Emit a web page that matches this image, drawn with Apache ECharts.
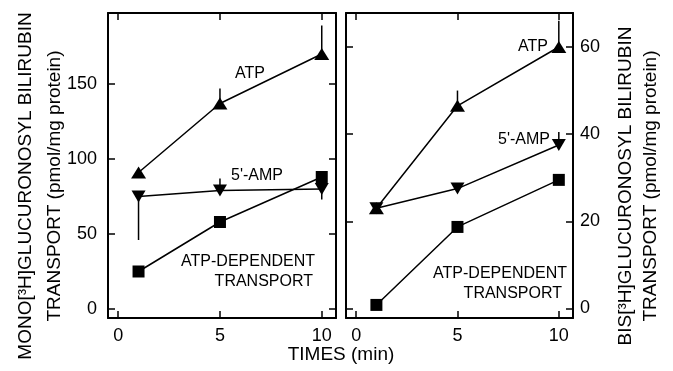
<!DOCTYPE html>
<html>
<head>
<meta charset="utf-8">
<script src="https://cdn.jsdelivr.net/npm/echarts@6/dist/echarts.min.js"></script>
<style>
html,body{margin:0;padding:0;background:#fff;}
#c{width:673px;height:371px;}
</style>
</head>
<body>
<div id="c"></div>
<script>
// ---- data ----
const times = [1, 5, 10];
const xTicks = [0, 5, 10];
const monoTicks = [0, 50, 100, 150];
const bisTicks = [0, 20, 40, 60];

const monoATP = [91, 137, 170];
const monoAMP = [75, 79, 80];
const monoDep = [25, 58, 88];
const monoATPErr = [null, 147, 189];
const monoAMPErr = [46, 87, 73];

const bisATP = [23, 46.5, 60];
const bisAMP = [23, 27.5, 37.5];
const bisDep = [0.8, 18.7, 29.5];
const bisATPErr = [null, 50, 66];
const bisAMPErr = [null, null, 40.5];

const leftTitle = 'MONO[³H]GLUCURONOSYL BILIRUBIN\nTRANSPORT (pmol/mg protein)';
const rightTitle = 'BIS[³H]GLUCURONOSYL BILIRUBIN\nTRANSPORT (pmol/mg protein)';
const xTitle = 'TIMES (min)';

// ---- helpers ----
const FONT = '"Liberation Sans", Arial, sans-serif';
const pairs = (ys) => times.map((t, i) => [t, ys[i]]);
const errs = (ys, ends) => times.map((t, i) => ends[i] == null ? null : [t, ys[i], ends[i]]).filter(Boolean);

function xAxisDef(grid, pos, showLabel) {
  return {
    type: 'value', gridIndex: grid, position: pos, min: -0.5, max: 10.7,
    axisLine: { show: true, onZero: false, lineStyle: { color: '#000', width: 2 } },
    axisTick: { show: true, inside: true, length: 7, customValues: xTicks, lineStyle: { color: '#000', width: 1.5 } },
    axisLabel: { show: showLabel, customValues: xTicks, margin: 9, color: '#000', fontSize: 18, fontFamily: FONT },
    splitLine: { show: false }
  };
}
function yAxisDef(grid, pos, min, max, ticks, showLabel, margin) {
  return {
    type: 'value', gridIndex: grid, position: pos, min: min, max: max,
    axisLine: { show: true, onZero: false, lineStyle: { color: '#000', width: 2 } },
    axisTick: { show: true, inside: true, length: 7, customValues: ticks, lineStyle: { color: '#000', width: 1.5 } },
    axisLabel: { show: showLabel, customValues: ticks, margin: margin, color: '#000', fontSize: 18, fontFamily: FONT },
    splitLine: { show: false }
  };
}
function lineSeries(xi, yi, data, symbol, size) {
  return {
    type: 'line', xAxisIndex: xi, yAxisIndex: yi, data: data,
    symbol: symbol, symbolSize: size, showSymbol: true, z: 3,
    lineStyle: { color: '#000', width: 1.5 },
    itemStyle: { color: '#000', borderWidth: 0 },
    animation: false, silent: true
  };
}
function errSeries(xi, yi, data) {
  return {
    type: 'custom', xAxisIndex: xi, yAxisIndex: yi, data: data, z: 2,
    encode: { x: 0, y: [1, 2] },
    renderItem: function (params, api) {
      const a = api.coord([api.value(0), api.value(1)]);
      const b = api.coord([api.value(0), api.value(2)]);
      return { type: 'line', shape: { x1: a[0], y1: a[1], x2: b[0], y2: b[1] },
               style: { stroke: '#000', lineWidth: 1.5 } };
    },
    animation: false, silent: true
  };
}
const downTri = 'path://M0,0 L10,0 L5,9 Z';

const chart = echarts.init(document.getElementById('c'), null, { renderer: 'canvas' });
const txt = (x, y, s, align, extra) => Object.assign({
  type: 'text', x: x, y: y, silent: true,
  style: { text: s, fill: '#000', font: '16px ' + FONT, textAlign: align || 'center', textVerticalAlign: 'middle' }
}, extra || {});

chart.setOption({
  animation: false,
  backgroundColor: '#fff',
  grid: [
    { left: 108, top: 13, width: 228, height: 305, outerBoundsMode: 'none', containLabel: false },
    { left: 346, top: 13, width: 227, height: 305, outerBoundsMode: 'none', containLabel: false }
  ],
  xAxis: [
    xAxisDef(0, 'bottom', true),
    xAxisDef(0, 'top', false),
    xAxisDef(1, 'bottom', true),
    xAxisDef(1, 'top', false)
  ],
  yAxis: [
    yAxisDef(0, 'left', -6, 197.3, monoTicks, true, 11),
    yAxisDef(0, 'right', -6, 197.3, monoTicks, false, 8),
    yAxisDef(1, 'right', -2.2, 67.8, bisTicks, true, 7),
    yAxisDef(1, 'left', -2.2, 67.8, bisTicks, false, 8)
  ],
  series: [
    errSeries(0, 0, errs(monoATP, monoATPErr)),
    errSeries(0, 0, errs(monoAMP, monoAMPErr)),
    lineSeries(0, 0, pairs(monoATP), 'triangle', [15, 12]),
    lineSeries(0, 0, pairs(monoAMP), downTri, [14, 12]),
    lineSeries(0, 0, pairs(monoDep), 'rect', 12),
    errSeries(2, 2, errs(bisATP, bisATPErr)),
    errSeries(2, 2, errs(bisAMP, bisAMPErr)),
    lineSeries(2, 2, pairs(bisATP), 'triangle', [15, 12]),
    lineSeries(2, 2, pairs(bisAMP), downTri, [14, 12]),
    lineSeries(2, 2, pairs(bisDep), 'rect', 12)
  ],
  graphic: [
    txt(250, 74, 'ATP'),
    txt(257, 176, "5'-AMP"),
    txt(315, 262, 'ATP-DEPENDENT', 'right'),
    txt(313, 282, 'TRANSPORT', 'right'),
    txt(548, 47, 'ATP', 'right'),
    txt(524, 140, "5'-AMP"),
    txt(567, 274, 'ATP-DEPENDENT', 'right'),
    txt(562, 294, 'TRANSPORT', 'right'),
    { type: 'text', x: 341, y: 355, silent: true,
      style: { text: xTitle, fill: '#000', font: '19px ' + FONT, textAlign: 'center', textVerticalAlign: 'middle' } },
    { type: 'text', x: 40.5, y: 186, rotation: Math.PI / 2, silent: true,
      style: { text: leftTitle, fill: '#000', font: '19px ' + FONT, lineHeight: 29, textAlign: 'center', textVerticalAlign: 'middle' } },
    { type: 'text', x: 638, y: 186, rotation: Math.PI / 2, silent: true,
      style: { text: rightTitle, fill: '#000', font: '19px ' + FONT, lineHeight: 25, textAlign: 'center', textVerticalAlign: 'middle' } }
  ]
});
</script>
</body>
</html>
